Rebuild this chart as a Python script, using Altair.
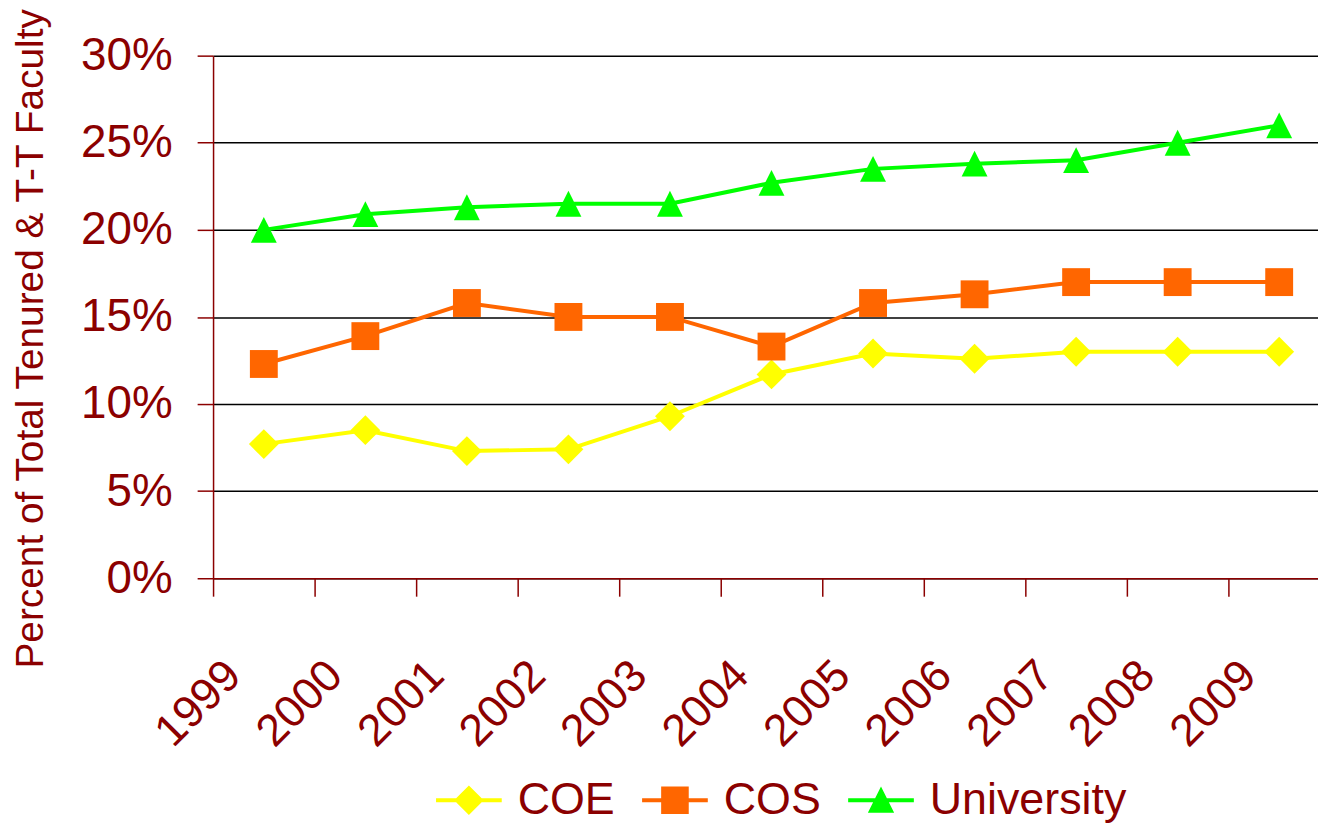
import altair as alt
import pandas as pd

# ---- data ----
years = ["1999", "2000", "2001", "2002", "2003", "2004", "2005", "2006", "2007", "2008", "2009"]
series_names = ["COE", "COS", "University"]
coe_pct = [7.7, 8.5, 7.3, 7.4, 9.3, 11.7, 12.9, 12.6, 13.0, 13.0, 13.0]
cos_pct = [12.3, 13.9, 15.8, 15.0, 15.0, 13.3, 15.8, 16.3, 17.0, 17.0, 17.0]
univ_pct = [20.0, 20.9, 21.3, 21.5, 21.5, 22.7, 23.5, 23.8, 24.0, 25.0, 26.0]
y_ticks = [0, 0.05, 0.10, 0.15, 0.20, 0.25, 0.30]

colors = ["#FFFF00", "#FF6600", "#00FF00"]
marker_shapes = ["diamond", "square", "M0,-1L1,1L-1,1Z"]
marker_sizes = [900, 784, 676]
DARK = "#8B0000"
FONT = "Liberation Sans"

rows = []
for name, vals in zip(series_names, [coe_pct, cos_pct, univ_pct]):
    for yr, v in zip(years, vals):
        rows.append({"Year": yr, "Series": name, "Value": v / 100.0})
df = pd.DataFrame(rows)

color_scale = alt.Scale(domain=series_names, range=colors)

# legend symbols: a short line with the marker on it
legend_paths = [
    "M-1,-0.06L1,-0.06L1,0.06L-1,0.06Z M0,-0.45L0.45,0L0,0.45L-0.45,0Z",
    "M-1,-0.06L1,-0.06L1,0.06L-1,0.06Z M-0.42,-0.42L0.42,-0.42L0.42,0.42L-0.42,0.42Z",
    "M-1,-0.06L1,-0.06L1,0.06L-1,0.06Z M0,-0.42L0.4,0.38L-0.4,0.38Z",
]

x_enc = alt.X(
    "Year:N",
    sort=years,
    scale=alt.Scale(type="band", paddingInner=0, paddingOuter=0),
    axis=alt.Axis(
        title=None,
        labelAngle=-45,
        labelAlign="right",
        labelBaseline="middle",
        labelFontSize=45,
        labelColor=DARK,
        labelFont=FONT,
        labelPadding=72,
        labelOffset=-31,
        labelOverlap=False,
        tickBand="extent",
        tickSize=18,
        tickColor=DARK,
        tickWidth=1.5,
        domainColor=DARK,
        domainWidth=1.5,
        grid=False,
    ),
)

y_enc = alt.Y(
    "Value:Q",
    scale=alt.Scale(domain=[0, 0.30], nice=False),
    axis=alt.Axis(
        title="Percent of Total Tenured & T-T Faculty",
        values=y_ticks,
        format=".0%",
        labelFontSize=46,
        labelColor=DARK,
        labelFont=FONT,
        labelPadding=25,
        tickSize=16,
        tickColor=DARK,
        tickWidth=1.5,
        domainColor=DARK,
        domainWidth=1.5,
        grid=True,
        gridColor="#000000",
        gridWidth=1.5,
        titleFontSize=39,
        titleColor=DARK,
        titleFont=FONT,
        titleFontWeight="normal",
        titleAngle=270,
        titleAlign="center",
        titleBaseline="middle",
        titleX=-183,
        titleY=284,
    ),
)

base = alt.Chart(df).encode(x=x_enc, y=y_enc)

layers = []
for name, col in zip(series_names, colors):
    layers.append(
        base.transform_filter(alt.datum.Series == name).mark_line(strokeWidth=4, color=col)
    )
for name, col, shp, sz in zip(series_names, colors, marker_shapes, marker_sizes):
    layers.append(
        base.transform_filter(alt.datum.Series == name).mark_point(
            shape=shp, size=sz, filled=True, opacity=1, color=col
        )
    )

leg = alt.Legend(
    title=None,
    orient="none",
    legendX=223,
    legendY=714,
    direction="horizontal",
    labelFontSize=45,
    labelColor=DARK,
    labelFont=FONT,
    labelLimit=600,
    symbolSize=4356,
    labelOffset=15,
    columnPadding=26,
)

# layer that only drives the legend: its marks sit outside the plot and are clipped
legend_layer = alt.Chart(df).mark_point(
    filled=True, opacity=1, size=4356, clip=True
).encode(
    x=alt.X("Year:N", sort=years),
    y=alt.datum(-1.0),
    color=alt.Color("Series:N", scale=color_scale, legend=leg),
    shape=alt.Shape("Series:N", scale=alt.Scale(domain=series_names, range=legend_paths), legend=leg),
)
layers.append(legend_layer)

chart = (
    alt.layer(*layers)
    .properties(
        width=1122,
        height=525,
        autosize="none",
        padding={"left": 206, "top": 46, "right": -12, "bottom": 244},
        background="white",
    )
    .configure(font=FONT)
    .configure_view(stroke=None)
)

chart.save("out.html", embed_options={"renderer": "svg", "actions": False})
